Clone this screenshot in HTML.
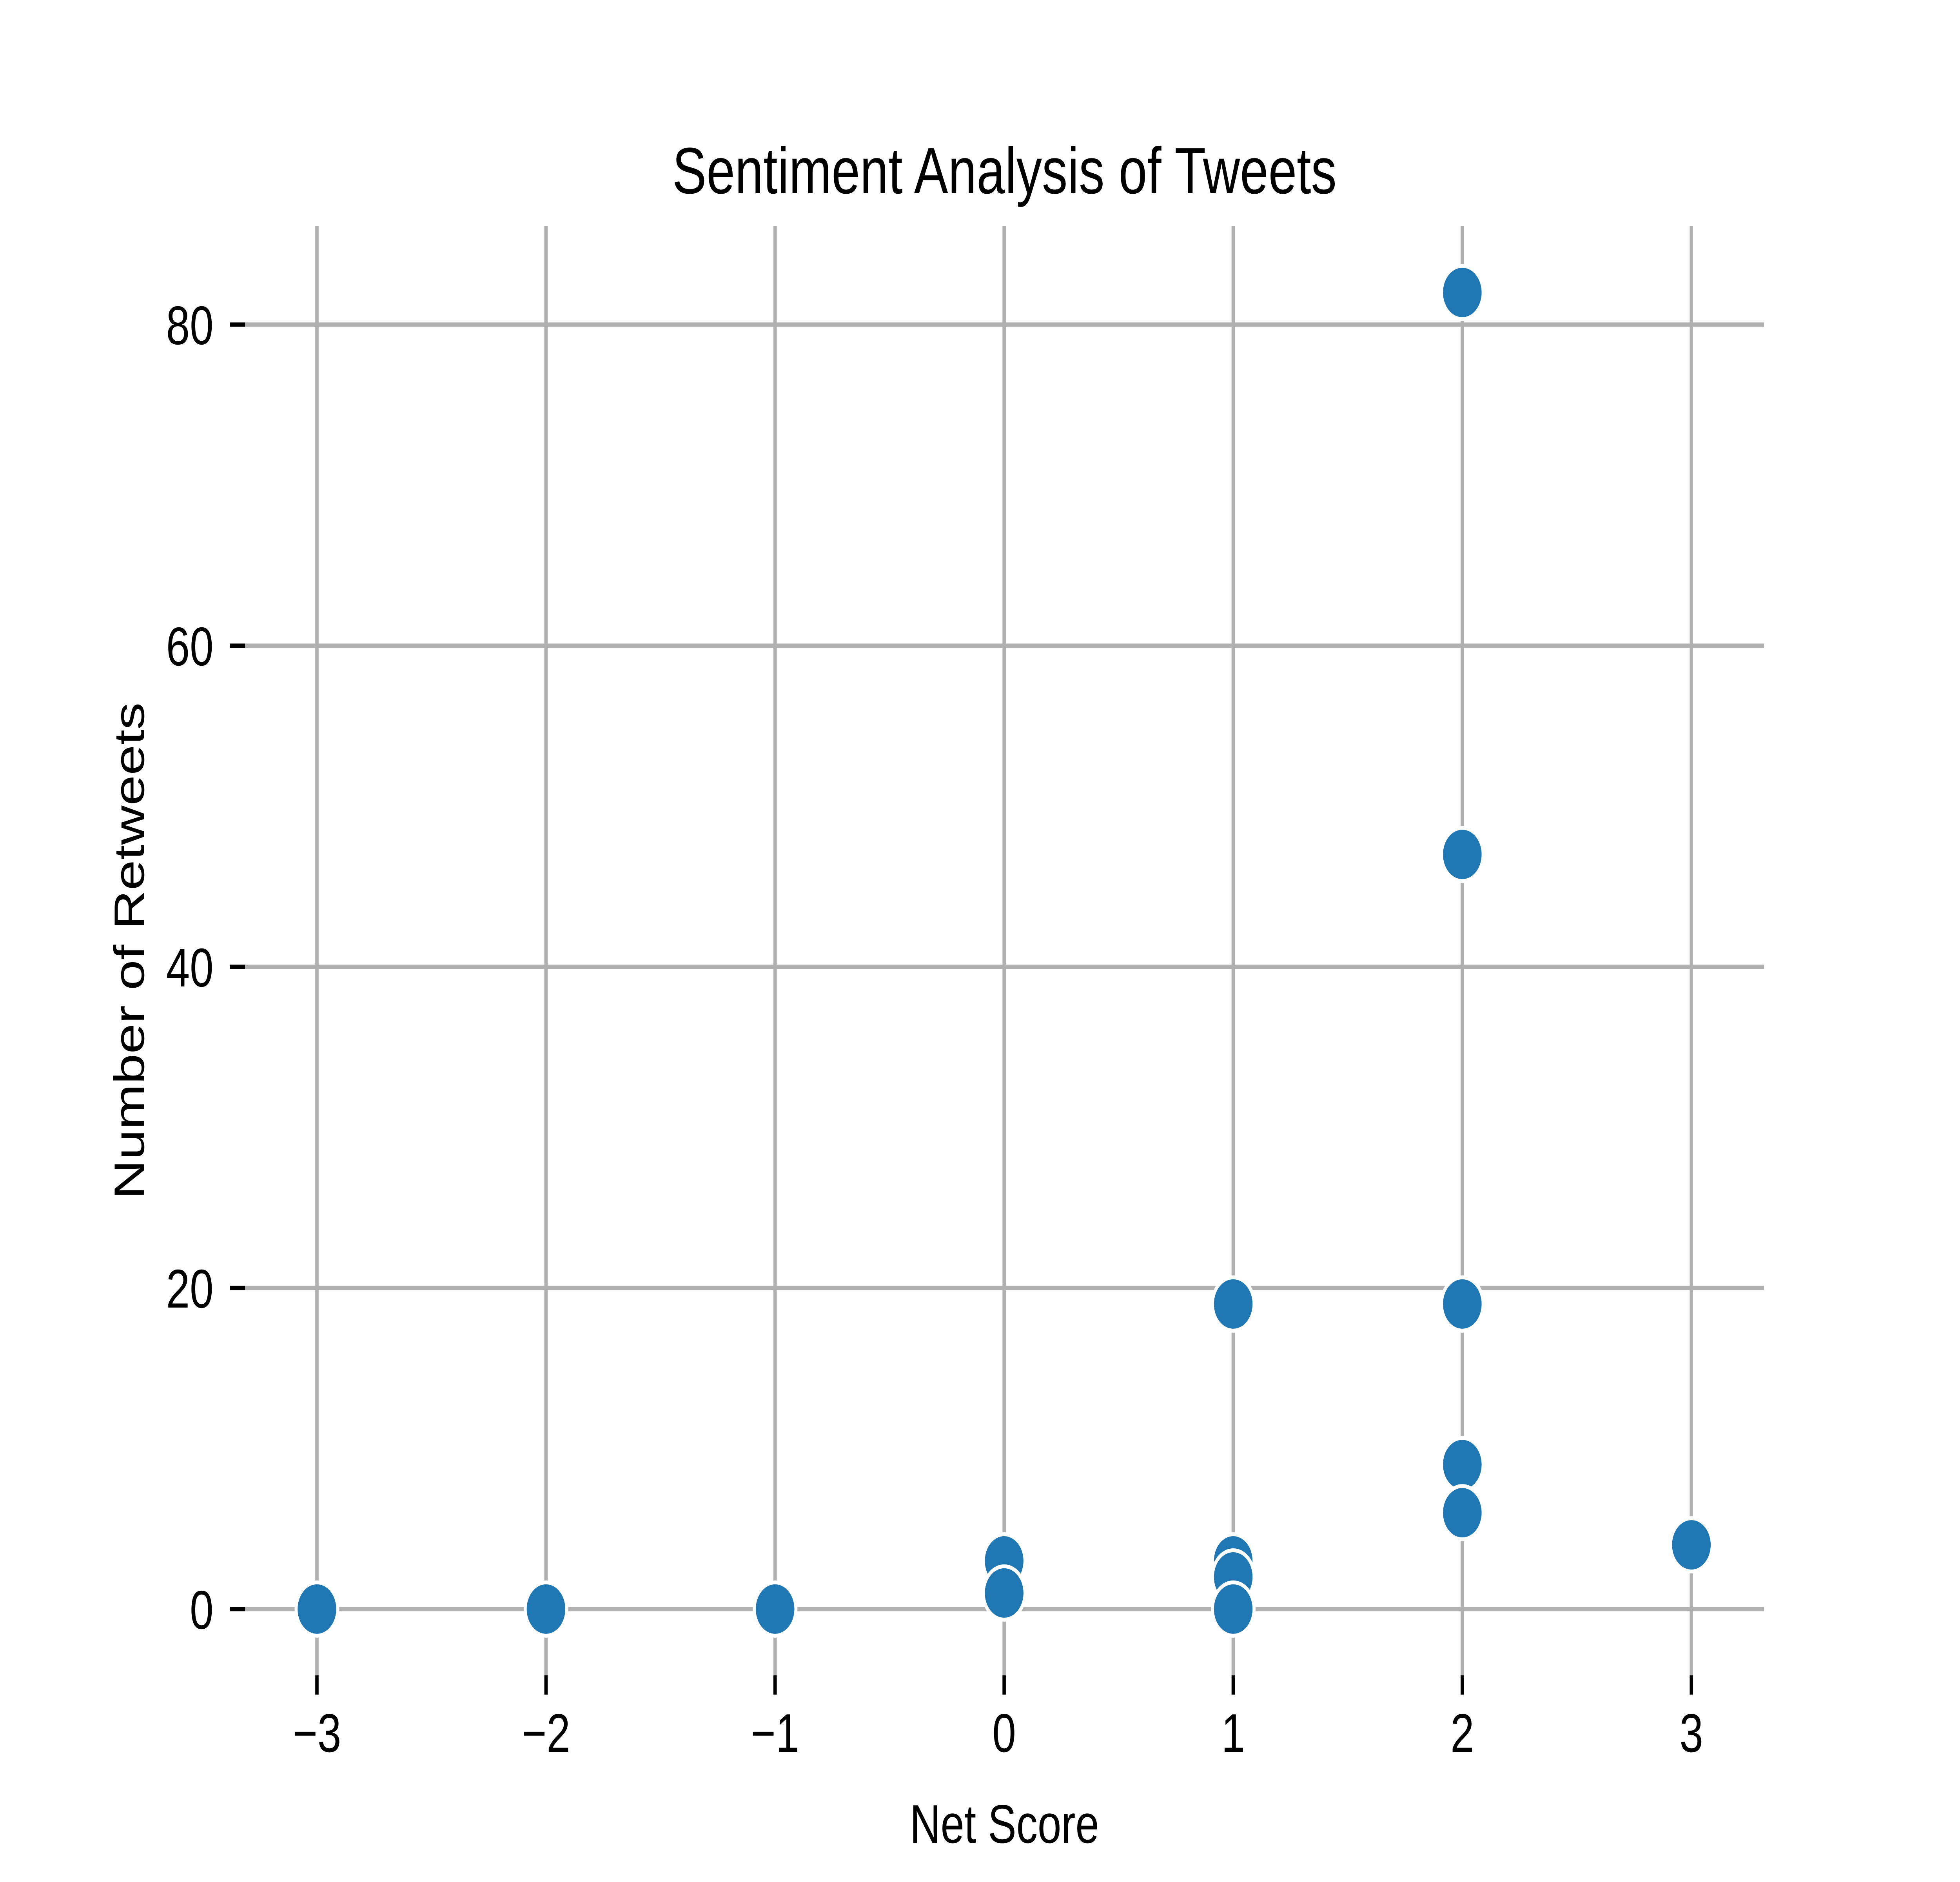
<!DOCTYPE html>
<html><head><meta charset="utf-8"><style>
html,body{margin:0;padding:0;background:#fff;overflow:hidden;width:100%;height:100%;}
svg{display:block;width:100vw;height:100vh;font-family:"Liberation Sans",Arial,sans-serif;}
</style></head><body>
<svg id="chart" viewBox="0 0 6400 4800" preserveAspectRatio="none">
<rect width="6400" height="4800" fill="#fff"/>
<g id="grid"></g><g id="ticks"></g><g id="marks"></g>
<text x="3280" y="493" font-size="167" text-anchor="middle">Sentiment Analysis of Tweets</text>
<text x="3280" y="4700" font-size="139" text-anchor="middle">Net Score</text>
<text transform="translate(470,2425) rotate(-90)" font-size="139" text-anchor="middle">Number of Retweets</text>
</svg>
<script>
const netScores = [-3, -2, -1, 0, 0, 1, 1, 1, 1, 2, 2, 2, 2, 2, 3];
const retweets = [0, 0, 0, 3, 1, 19, 3, 2, 0, 82, 47, 19, 9, 6, 4];
const xTicks = [-3, -2, -1, 0, 1, 2, 3];
const yTicks = [0, 20, 40, 60, 80];
const xTickLabels = ["\u22123", "\u22122", "\u22121", "0", "1", "2", "3"];
const yTickLabels = ["0", "20", "40", "60", "80"];

const L = 800, R = 5760, T = 576, B = 4273;
const X0 = -3.314, X1 = 3.317, Y0 = -4.13, Y1 = 86.15;
function sx(v){ return L + (v - X0) / (X1 - X0) * (R - L); }
function sy(v){ return B - (v - Y0) / (Y1 - Y0) * (B - T); }
const NS = "http://www.w3.org/2000/svg";
function mk(tag, parent){ const e = document.createElementNS(NS, tag); document.getElementById(parent).appendChild(e); return e; }

xTicks.forEach((t, i) => {
  const g = mk("line", "grid");
  
  
  g.setAttribute("x1", sx(t)); g.setAttribute("x2", sx(t));
  g.setAttribute("y1", T); g.setAttribute("y2", B);
  g.setAttribute("stroke", "#b0b0b0"); g.setAttribute("stroke-width", "11");
  const tk = mk("line", "ticks");
  
  
  tk.setAttribute("x1", sx(t)); tk.setAttribute("x2", sx(t));
  tk.setAttribute("y1", B); tk.setAttribute("y2", B + 49);
  tk.setAttribute("stroke", "#000"); tk.setAttribute("stroke-width", "11");
  const lb = mk("text", "ticks");
  
  
  lb.setAttribute("x", sx(t)); lb.setAttribute("y", 4468);
  lb.setAttribute("font-size", "139"); lb.setAttribute("text-anchor", "middle");
  lb.textContent = xTickLabels[i];
});
yTicks.forEach((t, i) => {
  const g = mk("line", "grid");
  
  
  g.setAttribute("x1", L); g.setAttribute("x2", R);
  g.setAttribute("y1", sy(t)); g.setAttribute("y2", sy(t));
  g.setAttribute("stroke", "#b0b0b0"); g.setAttribute("stroke-width", "11");
  const tk = mk("line", "ticks");
  
  
  tk.setAttribute("x1", L - 49); tk.setAttribute("x2", L);
  tk.setAttribute("y1", sy(t)); tk.setAttribute("y2", sy(t));
  tk.setAttribute("stroke", "#000"); tk.setAttribute("stroke-width", "11");
  const lb = mk("text", "ticks");
  
  
  lb.setAttribute("x", 697); lb.setAttribute("y", sy(t) + 50);
  lb.setAttribute("font-size", "139"); lb.setAttribute("text-anchor", "end");
  lb.textContent = yTickLabels[i];
});
netScores.forEach((v, i) => {
  const c = mk("circle", "marks");
  
  
  c.setAttribute("cx", sx(v)); c.setAttribute("cy", sy(retweets[i]));
  c.setAttribute("r", "68"); c.setAttribute("fill", "#1f77b4");
  c.setAttribute("stroke", "#fff"); c.setAttribute("stroke-width", "10");
});
</script>
</body></html>
